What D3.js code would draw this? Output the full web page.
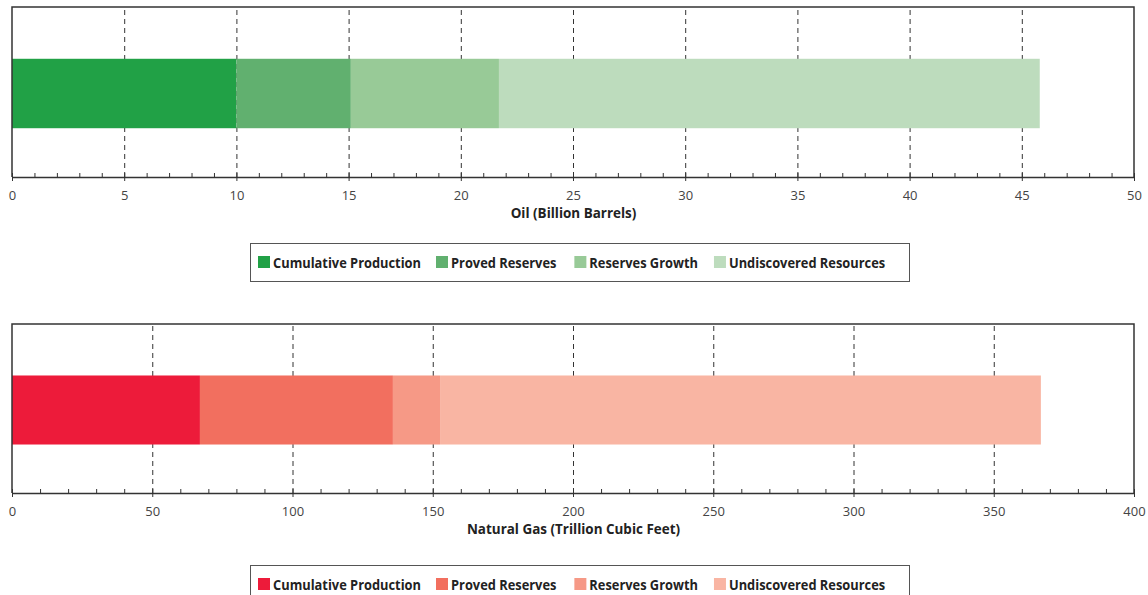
<!DOCTYPE html>
<html>
<head>
<meta charset="utf-8">
<script src="https://cdn.jsdelivr.net/npm/d3@7"></script>
<style>
  body { margin: 0; background: #fff; }
  svg { display: block; }
  text { font-family: "Open Sans", sans-serif; }
</style>
</head>
<body>
<svg id="svg" width="1148" height="595"></svg>
<script>
let svg = d3.select("#svg");

/* Data */
let keys = ["Cumulative Production", "Proved Reserves", "Reserves Growth", "Undiscovered Resources"];
let oilValues = [10.0, 5.1, 6.6, 24.1];
let gasValues = [67.0, 68.8, 16.8, 214.2];
let oilTicks = [0, 5, 10, 15, 20, 25, 30, 35, 40, 45, 50];
let gasTicks = [0, 50, 100, 150, 200, 250, 300, 350, 400];
let greens = ["#21a146", "#61b06f", "#98ca97", "#bddcbd"];
let reds = ["#ed1b3a", "#f26f5f", "#f69986", "#f9b5a3"];

/* squeeze text a bit, the original uses a condensed face */
function squeeze(t, f) {
  let w = t.node().getComputedTextLength();
  t.attr("textLength", w * f).attr("lengthAdjust", "spacingAndGlyphs");
  return w * f;
}

function panel(opts) {
  let g = svg.append("g");
  let x = d3.scaleLinear().domain([0, opts.max]).range([12, 1134]);
  let y = d3.scaleBand().domain([opts.name]).range([opts.top, opts.bottom]).padding(0.42);

  let row = {};
  keys.forEach((k, i) => row[k] = opts.values[i]);
  let series = d3.stack().keys(keys)([row]);

  /* Grid */
  g.append("g")
    .attr("transform", `translate(0,${opts.bottom})`)
    .call(d3.axisBottom(x).tickValues(opts.ticks.slice(1, -1)).tickSize(-(opts.bottom - opts.top)).tickFormat(""))
    .call(a => a.select(".domain").remove())
    .call(a => a.selectAll("line").attr("stroke", "#333").attr("stroke-dasharray", "5,4"));

  /* Bars */
  g.selectAll(".seg")
    .data(series)
    .join("rect")
    .attr("x", d => x(d[0][0]))
    .attr("width", d => x(d[0][1]) - x(d[0][0]))
    .attr("y", y(opts.name) + 1.5)
    .attr("height", y.bandwidth())
    .attr("fill", (d, i) => opts.colors[i]);

  /* Frame */
  g.append("path")
    .attr("d", `M${x(0)},${opts.bottom}V${opts.top}H${x(opts.max)}V${opts.bottom}`)
    .attr("fill", "none")
    .attr("stroke", "#333")
    .attr("stroke-width", 1.5);

  /* Minor ticks */
  g.append("g")
    .attr("transform", `translate(0,${opts.bottom})`)
    .call(d3.axisTop(x).tickValues(d3.range(0, opts.max + 0.001, opts.minor)).tickSize(4).tickFormat(""))
    .call(a => a.select(".domain").remove())
    .call(a => a.selectAll("line").attr("stroke", "#333"));

  /* Axis */
  g.append("g")
    .attr("transform", `translate(0,${opts.bottom})`)
    .call(d3.axisBottom(x).tickValues(opts.ticks).tickSize(4).tickSizeOuter(0).tickPadding(10))
    .call(a => a.select(".domain").attr("stroke", "#333").attr("stroke-width", 1.5))
    .call(a => a.selectAll("line").attr("stroke", "#333"))
    .call(a => a.selectAll("text").attr("font-size", 13).attr("fill", "#444").attr("font-family", null));

  let title = g.append("text")
    .attr("x", 573.5)
    .attr("y", opts.bottom + 40.5)
    .attr("text-anchor", "middle")
    .attr("font-size", 14)
    .attr("font-weight", "bold")
    .attr("fill", "#222")
    .text(opts.title);
  squeeze(title, 0.96);

  /* Legend */
  let leg = g.append("g").attr("transform", `translate(0,${opts.legendTop})`);
  leg.append("rect")
    .attr("x", 250.5).attr("y", 0.5)
    .attr("width", 659).attr("height", 38)
    .attr("fill", "none").attr("stroke", "#555");
  let gaps = [15, 18, 16, 0];
  let lx = 258;
  let f = null;
  keys.forEach((k, i) => {
    leg.append("rect")
      .attr("x", lx).attr("y", 13)
      .attr("width", 12).attr("height", 12)
      .attr("fill", opts.colors[i]);
    let t = leg.append("text")
      .attr("x", lx + 15).attr("y", 24.5)
      .attr("font-size", 14.5)
      .attr("font-weight", "bold")
      .attr("fill", "#222")
      .text(k);
    if (f === null) f = 148 / t.node().getComputedTextLength();
    lx += 15 + squeeze(t, f) + gaps[i];
  });
}

panel({ name: "Oil", values: oilValues, ticks: oilTicks, max: 50, minor: 1, colors: greens,
  top: 7, bottom: 177, title: "Oil (Billion Barrels)", legendTop: 243 });
panel({ name: "Gas", values: gasValues, ticks: gasTicks, max: 400, minor: 10, colors: reds,
  top: 324, bottom: 493, title: "Natural Gas (Trillion Cubic Feet)", legendTop: 565 });
</script>
</body>
</html>
